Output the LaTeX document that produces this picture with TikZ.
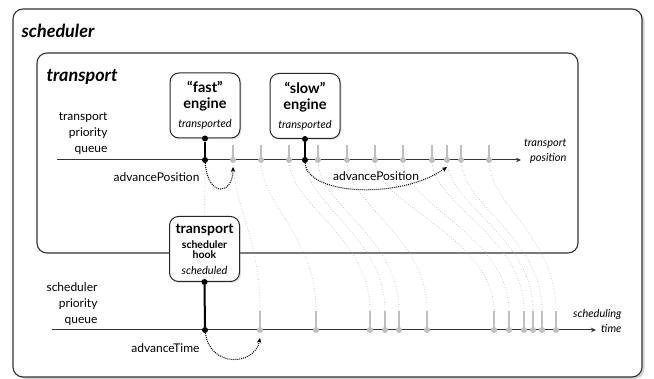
\documentclass[tikz,border=0pt]{standalone}
\usepackage{fontspec}
\setmainfont{Lato}
\usetikzlibrary{shadows,arrows.meta}
\begin{document}
\begin{tikzpicture}[x=1pt,y=-1pt,
    frame/.style={draw=black!80,line width=1.1pt,rounded corners=10pt,fill=white},
    box/.style={draw=black!85,line width=1pt,rounded corners=9pt,fill=white,align=center,
      minimum width=70pt,minimum height=65pt,inner sep=1pt,
      drop shadow={opacity=0.2,shadow xshift=1.5pt,shadow yshift=-1.5pt}},
    engfont/.style={font=\fontsize{14.5}{16}\selectfont\bfseries},
    dot/.style={circle,fill=black,inner sep=0pt,minimum size=6pt},
    gdot/.style={circle,fill=black!25,inner sep=0pt,minimum size=6pt},
    stem/.style={black!25,line width=2pt},
    link/.style={black!30,dotted,line width=0.6pt},
    advance/.style={densely dotted,line width=1pt,-{Stealth[length=5pt,width=4.5pt]}},
    axis/.style={black!80,line width=1pt,-{Stealth[length=5pt,width=4.5pt]}},
    title/.style={font=\fontsize{18}{20}\selectfont\bfseries\itshape,anchor=west},
    lbl/.style={font=\fontsize{12}{16}\selectfont,align=right,anchor=east},
    albl/.style={font=\fontsize{11}{15}\selectfont\itshape,align=right,anchor=east}]
    \useasboundingbox (0,0) rectangle (654,379);
    % frames
    \draw[frame,drop shadow={opacity=0.35,shadow xshift=2.5pt,shadow yshift=-2pt}] (13,9) rectangle (642,377);
    \node[title] (schedtitle) at (18,31) {scheduler};
    \draw[frame] (37,53) rectangle (578,253);
    \node[title] (transtitle) at (43,77) {transport};
    % axis
    \coordinate (ta) at (57,160);
    \coordinate (tb) at (521,160);
    \coordinate (sa) at (52,330);
    \coordinate (sb) at (596,330);
    \coordinate (t0) at (205,160);
    \coordinate (s0) at (205,330);
    % links transport -> scheduling
    \foreach \a/\b [count=\i] in {233/260,261/316,289/370,305/385,318/399,347/427,
        375/494,403/509,432/524,447/533,461/542,489/556} {
      \coordinate (t\i) at (\a,160);
      \coordinate (s\i) at (\b,330);
      \coordinate (u\i) at (\b,311);
      \draw[link] (t\i) .. controls +(0,45) and +(0,-75) .. (u\i);
    }
    \draw[axis] (ta) -- (tb);
    \draw[axis] (sa) -- (sb);
    \foreach \i in {1,...,12} {
      \draw[stem] (t\i) -- ++(0,-15);
      \node[gdot] (tp\i) at (t\i) {};
      \draw[stem] (s\i) -- (u\i);
      \node[gdot] (sp\i) at (s\i) {};
    }
    % engines
    \node[box,engfont] (fast) at (205,105.5) {“fast”\\engine\\[3pt]
      {\fontsize{11}{13}\selectfont\mdseries\itshape transported}};
    \node[box,engfont] (slow) at (305,106) {“slow”\\engine\\[3pt]
      {\fontsize{11}{13}\selectfont\mdseries\itshape transported}};
    \node[box,font=\fontsize{10.5}{10}\selectfont\bfseries] (hook) at (204.5,249)
      {{\fontsize{14}{16}\selectfont transport}\\[4pt]scheduler\\hook\\[6pt]
      {\fontsize{11}{13}\selectfont\mdseries\itshape scheduled}};
    \draw[link] (t0) -- (hook);
    % black stems
    \node[dot] (fs) at (fast.south) {};
    \node[dot] (ft) at (t0) {};
    \draw[line width=2pt] (fs) -- (ft);
    \node[dot] (ss) at (slow.south) {};
    \node[dot] (st) at (t4) {};
    \draw[line width=2pt] (ss) -- (st);
    \node[dot] (hs) at (hook.south) {};
    \node[dot] (ht) at (s0) {};
    \draw[line width=2pt] (hs) -- (ht);
    % advance
    \draw[advance] (ft) .. controls +(3,38) and +(0,28) .. ([yshift=-7pt]t1);
    \draw[advance] (st) .. controls +(2,35) and +(-47,33) .. ([yshift=-7pt]t10);
    \draw[advance] (ht) .. controls +(5,38) and +(-5,28) .. ([yshift=-8pt]s1);
    % text
    \node[lbl] (tq) at (111,134) {transport\\priority\\queue};
    \node[lbl] (sq) at (101,304) {scheduler\\priority\\queue};
    \node[albl] (tpos) at (570,151) {transport\\position};
    \node[albl] (stime) at (625,321) {scheduling\\time};
    \node[lbl] (adv1) at (203,177) {advancePosition};
    \node[font=\fontsize{12}{16}\selectfont] (adv2) at (376,176) {advancePosition};
    \node[lbl] (adv3) at (203,348) {advanceTime};
\end{tikzpicture}
\end{document}
